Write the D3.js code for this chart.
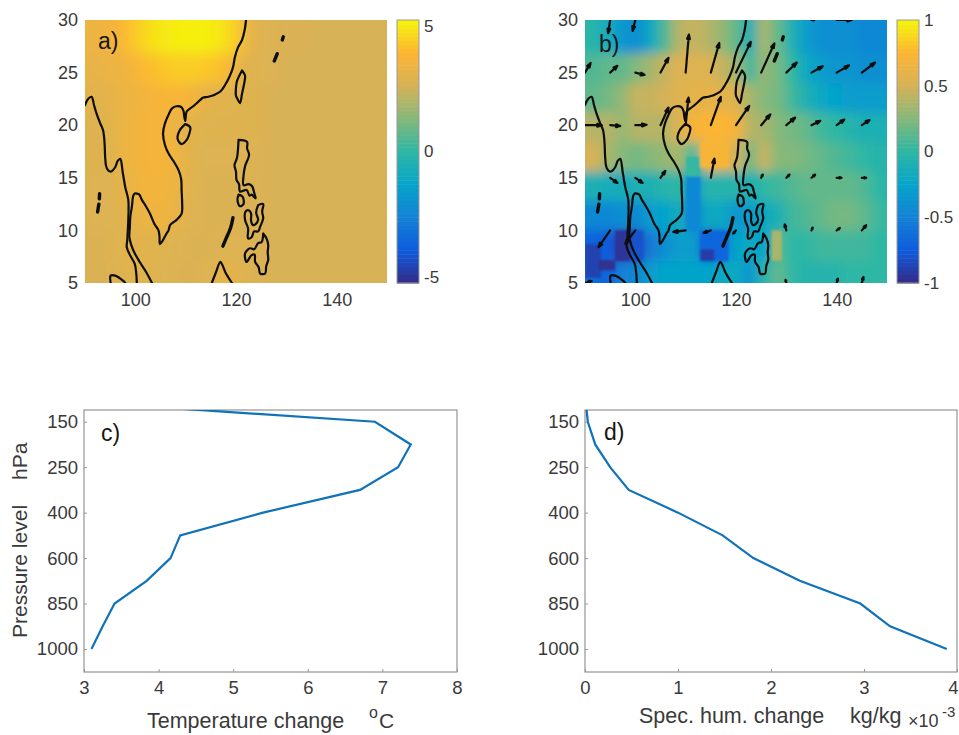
<!DOCTYPE html>
<html>
<head>
<meta charset="utf-8">
<script src="https://cdn.jsdelivr.net/npm/d3@7"></script>
<style>
    body { margin: 0; background: #fff; }
    text { font-family: "Liberation Sans", Arial, sans-serif; fill: #3a3a3a; }
</style>
</head>
<body>
<div id="chart"></div>
<script>
// Parula colormap stops, nudged to the tones seen in the figure
const parulaStops = ["#352a87", "#0f5cdd", "#1481d6", "#06a4ca", "#2eb7a4", "#85b87a", "#d6b258", "#fcb534", "#f5f50a"];

// Left edge of the field columns (2.8125 degree grid) and top edge of the rows
const fieldLonStart = 87.6;
const fieldLonStep = 2.8125;
const fieldLatEdges = [29.6, 26.8, 24, 21.2, 18.4, 15.6, 12.8, 10, 7.1, 4.3];

// Panel a) temperature change, one row per latitude band, north to south
const tempField = [
    [3.4, 3.4, 3.6, 3.9, 4.4, 4.8, 5.0, 5.1, 5.1, 5.1, 4.9, 4.4, 3.2, 2.85, 2.8, 2.75, 2.75, 2.7, 2.7, 2.7, 2.7, 2.7, 2.7],
    [3.2, 3.2, 3.3, 3.5, 3.8, 4.1, 4.3, 4.4, 4.4, 4.3, 4.1, 3.4, 2.9, 2.85, 2.75, 2.7, 2.7, 2.7, 2.7, 2.7, 2.7, 2.7, 2.7],
    [3.0, 3.0, 3.1, 3.3, 3.5, 3.7, 3.8, 3.8, 3.6, 3.1, 3.0, 2.95, 2.9, 2.8, 2.7, 2.7, 2.7, 2.7, 2.7, 2.7, 2.7, 2.7, 2.7],
    [2.9, 2.9, 3.0, 3.3, 3.6, 3.7, 3.7, 3.2, 3.0, 2.9, 2.9, 2.9, 2.9, 2.8, 2.7, 2.7, 2.7, 2.7, 2.7, 2.7, 2.7, 2.7, 2.7],
    [2.9, 2.9, 2.9, 3.3, 3.6, 3.7, 3.7, 3.4, 2.9, 2.85, 2.85, 2.85, 2.85, 2.75, 2.7, 2.7, 2.7, 2.7, 2.7, 2.7, 2.7, 2.7, 2.7],
    [2.8, 2.85, 2.85, 3.1, 3.5, 3.7, 3.6, 3.3, 2.85, 2.8, 2.8, 2.8, 2.8, 2.75, 2.7, 2.7, 2.7, 2.7, 2.7, 2.7, 2.7, 2.7, 2.7],
    [2.8, 2.85, 2.85, 3.0, 3.2, 3.5, 3.5, 3.2, 2.85, 2.8, 2.8, 2.8, 2.8, 2.75, 2.7, 2.7, 2.7, 2.7, 2.7, 2.7, 2.7, 2.7, 2.7],
    [2.8, 2.8, 2.8, 3.0, 3.0, 3.0, 2.9, 2.85, 2.8, 2.8, 2.85, 2.85, 2.85, 2.75, 2.65, 2.7, 2.7, 2.7, 2.7, 2.7, 2.7, 2.7, 2.7],
    [2.8, 2.8, 2.8, 2.9, 3.0, 2.9, 2.85, 2.8, 2.8, 2.85, 3.2, 3.0, 2.8, 2.75, 2.7, 2.7, 2.7, 2.7, 2.7, 2.7, 2.7, 2.7, 2.7]
];

// Panel b) humidity change
const humField = [
    [0, -0.05, -0.15, -0.35, -0.4, -0.2, 0.1, 0.4, 0.45, 0.4, 0.3, 0.15, -0.1, 0.35, 0.15, -0.1, -0.3, -0.4, -0.4, -0.4, -0.45, -0.45, -0.45],
    [0.1, 0.1, 0.15, 0.15, 0.25, 0.35, 0.45, 0.55, 0.55, 0.55, 0.45, 0.35, 0.05, 0.3, 0.2, 0, -0.2, -0.3, -0.35, -0.35, -0.4, -0.4, -0.4],
    [0.15, 0.15, 0.2, 0.3, 0.45, 0.45, 0.5, 0.55, 0.6, 0.6, 0.6, 0.55, 0.35, 0.25, 0.2, 0.05, -0.1, -0.2, -0.25, -0.3, -0.3, -0.3, -0.3],
    [0.4, 0.4, 0.4, 0.3, 0.4, 0.4, 0.4, 0.55, 0.7, 0.75, 0.75, 0.7, 0.4, 0.35, 0.25, 0.2, 0.15, 0.05, 0, -0.05, -0.1, -0.1, -0.1],
    [0.5, 0.5, 0.35, 0.25, 0.2, 0.25, 0.3, 0.35, 0.05, 0.7, 0.65, 0.5, 0.2, 0.45, 0.25, 0.25, 0.2, 0.15, 0.1, 0.05, 0, -0.05, -0.05],
    [-0.1, -0.1, -0.15, -0.15, -0.1, -0.1, -0.05, 0, -0.4, -0.05, -0.05, -0.05, -0.1, 0, 0.05, 0.1, 0.15, 0.15, 0.15, 0.15, 0.1, 0, -0.05],
    [-0.45, -0.45, -0.45, -0.4, -0.45, -0.3, -0.25, -0.15, -0.5, -0.2, -0.2, -0.35, -0.3, -0.2, -0.1, 0.05, 0.1, 0.15, 0.2, 0.2, 0.15, 0.05, 0],
    [-0.7, -0.7, -0.75, -0.9, -0.85, -0.55, -0.4, -0.3, -0.3, -0.7, -0.6, -0.25, -0.2, -0.25, 0.1, 0, 0, 0.05, 0.05, 0.05, 0.05, 0, 0],
    [-0.6, -0.65, -0.7, -0.5, -0.45, -0.3, -0.25, -0.25, -0.25, -0.25, -0.2, -0.2, -0.35, -0.05, 0.15, 0, -0.05, -0.05, -0.05, 0, 0, 0, 0]
];

// Blocky cells of panel b that stay sharp: lon0, lon1, lat0, lat1, value
const humBlocks = [
    [110.1, 112.9, 15.1, 17, 0.02],
    [110.1, 112.9, 10, 15.1, -0.45],
    [96, 101.6, 7.1, 10, -0.8],
    [96, 99, 7.1, 10, -0.95],
    [112.9, 118.5, 7.1, 10, -0.68],
    [112.9, 115.7, 7.1, 8.2, -0.9],
    [90, 93.2, 5.5, 8.7, -0.88],
    [92.8, 96, 6.2, 7.2, -0.97],
    [112.9, 118.5, 16, 18.4, 0.72],
    [127.1, 129.1, 7.1, 10, 0.36]
];

// Quiver grid of panel b
const windLons = [90, 95, 100, 105, 110, 115, 120, 125, 130, 135, 140, 145];
const windLats = [30, 25, 20, 15, 10, 5];
const windU = [
    [0, -0.5, -0.7, 0, 0, 0, 0, 0, 0, 0.7, 3.8, 0],
    [1.4, 1.8, 2.3, 2.0, 0.8, 2.1, 3.7, 3.3, 2.6, 2.8, 3.1, 3.3],
    [4.2, 2.5, 2.8, 2.0, 0.7, 2.5, 3.3, 2.3, 2.2, 2.2, 1.9, 1.9],
    [0, 1.8, 1.8, 1.2, 0, 0.9, 0, 0.4, 0.8, 0.9, 1.2, 1.1],
    [0, -2.9, -2.5, 0, -3.1, -1.8, -0.7, 0, -0.4, 0.3, 0.8, 1.1],
    [1.7, 0, 0, 0, 0, 0, 0, 0, -0.2, 0, 0.3, 0.4]
];
const windV = [
    [0, -3.3, -2.7, 0, 0, 0, 0, 0, 0, 0, 0, 0],
    [2.4, 1.7, -0.6, 3.7, 9.5, 7.4, 7.7, 7.3, 2.5, 1.6, 1.8, 2.5],
    [0, -0.2, 0.1, 4.4, 6.9, 7.1, 4.8, 2.7, 1.9, 1.1, 1.4, 1.3],
    [0, -1.3, -1.3, 1.7, 0, 4.8, 0, 0.8, 0.8, 0.8, 0, 0],
    [0, -4.2, -3.3, 0, -0.4, -0.6, -0.8, 0, 1.5, 0.7, 0.6, 1.3],
    [0.5, 0, 0, 0, 0, 0, 0, 0, 0.8, 0, 1.1, 1.5]
];

// Coastlines as [lon, lat]
const coastChina = [[122, 30], [121.7, 29], [121.2, 28.1], [120.4, 27.4], [119.8, 26.5], [119.4, 25.5], [118.7, 24.6], [117.8, 23.8], [116.9, 23.2], [115.8, 22.9], [114.5, 22.7], [113.4, 22.6], [112.9, 22.4], [111.5, 21.8], [110.2, 21.3], [110, 20.7], [109.9, 20.4], [109.7, 20.9], [109.6, 21.3], [109.2, 21.7], [108.2, 21.8], [107.3, 21.6], [106.6, 21], [105.9, 20.2], [105.5, 19.2], [105.9, 18.1], [106.6, 17.3], [107.7, 16.5], [108.6, 15.7], [109.1, 14.9], [109.2, 13.8], [109.3, 12.6], [109.2, 11.6], [108.2, 11], [106.9, 10.5], [106.6, 10], [106.2, 9.7], [105.4, 9], [104.9, 8.7], [104.8, 9.4], [104.6, 10], [103.8, 10.6], [102.9, 11.6], [102.1, 12.3], [101.3, 12.9], [100.8, 13.4], [100.3, 13.5], [99.9, 13.5], [99.6, 13.3], [99.3, 12.2], [99, 11.3], [98.9, 10.2], [98.8, 9.4], [99.2, 8.6], [99.9, 7.8], [101, 6.9], [102.2, 6], [103.3, 5]];
const coastBurma = [[90, 21.9], [90.6, 22.5], [91.3, 22.7], [91.8, 21.9], [92.3, 21.1], [93, 20.2], [93.6, 19.5], [93.9, 18.2], [94, 17], [94.2, 16.1], [94.6, 15.7], [95.2, 15.6], [96, 16], [96.5, 16.6], [97, 16.8], [97.5, 15.5], [98, 14.1], [98.6, 12.9], [98.6, 11], [98.4, 9.1], [98.3, 8.4], [99, 7.6], [99.9, 6.8], [100.2, 5.8], [100.3, 5]];
const coastSumatra = [[95.1, 5], [95.1, 5.7], [96, 5.7], [97.6, 5.2], [98, 5]];
const coastBorneo = [[115.2, 5], [116, 6], [116.9, 7], [117.4, 6.6], [117.9, 6], [119.2, 5]];
const islandTaiwan = [[121.2, 25.2], [121.8, 24.7], [121.6, 23.9], [121.2, 23], [120.8, 22.1], [120.3, 22.5], [120, 22.8], [120, 23.6], [120.2, 24.2], [121.2, 25.2]];
const islandHainan = [[109.9, 20.1], [110.9, 19.8], [110.6, 19], [110.2, 18.6], [109.2, 18.2], [108.4, 18.7], [108.8, 19.5], [109.9, 20.1]];
const islandLuzon = [[120.5, 18.6], [122.2, 18.4], [122.2, 17.8], [122.6, 17.2], [121.8, 16.1], [121.5, 15.2], [121.5, 14.3], [122.5, 14.4], [123.2, 14.2], [123.6, 13.6], [123.9, 13.05], [123.1, 13.4], [122.7, 13.3], [122.1, 13.85], [120.8, 13.7], [120.6, 14.4], [120.1, 14.8], [120, 15.6], [119.7, 16.2], [120.2, 16.9], [120.5, 18.6]];
const islandMindoro = [[120.5, 13.4], [121.3, 13.2], [121.5, 12.5], [120.8, 12.3], [120.3, 12.9], [120.5, 13.4]];
const islandVisayas = [[124.4, 12.4], [125.4, 12.5], [125.2, 11.8], [125.4, 11.15], [124.8, 10.35], [124.4, 9.9], [123.6, 9.9], [123.1, 9.35], [122.4, 9.25], [122.4, 10.2], [121.8, 11], [121.9, 11.8], [122.6, 11.9], [123, 11.6], [123, 10.9], [123.4, 10.5], [123.9, 10.6], [124.4, 11], [124, 11.7], [124.4, 12.4]];
const islandMindanao = [[125.4, 9.7], [126.1, 9.2], [126.4, 8.6], [126.3, 7.9], [126.4, 7.2], [126, 6.6], [125.8, 5.9], [124.8, 5.9], [124.5, 6.5], [123.8, 7], [123.7, 7.7], [123.1, 7.65], [122.1, 7], [121.8, 7.8], [122.8, 8.3], [123.6, 8.2], [124.4, 8.8], [125.1, 8.9], [125.4, 9.7]];
const coastLines = [coastChina, coastBurma, coastSumatra, coastBorneo, islandTaiwan, islandHainan, islandLuzon, islandMindoro, islandVisayas, islandMindanao];

// Narrow islands that print as solid blobs
const islandPalawan = [[119.4, 11.2], [118.9, 10.2], [118, 9.2], [117.4, 8.5]];
const islandAndaman1 = [[92.9, 13.5], [92.85, 13]];
const islandAndaman2 = [[92.75, 12.5], [92.5, 11.75]];
const islandRyukyu1 = [[129.4, 28.4], [129.2, 28.1]];
const islandRyukyu2 = [[128.2, 26.8], [127.6, 26.1]];
const thinIslands = [islandPalawan, islandAndaman1, islandAndaman2, islandRyukyu1, islandRyukyu2];

const mapLonTicks = [100, 120, 140];
const mapLatTicks = [5, 10, 15, 20, 25, 30];

// Vertical profiles
const levels = [1000, 925, 850, 700, 600, 500, 400, 300, 250, 200, 150, 100];
const levelTicks = [150, 250, 400, 600, 850, 1000];
const tempProfile = [3.1, 3.25, 3.41, 3.84, 4.16, 4.29, 5.4, 6.7, 7.21, 7.38, 6.9, 2.34];
const humProfile = [3.89, 3.28, 2.96, 2.31, 1.81, 1.48, 1.0, 0.47, 0.27, 0.11, 0.03, 0.005];
const tempTicks = [3, 4, 5, 6, 7, 8];
const humTicks = [0, 1, 2, 3, 4];

const svg = d3.select("#chart").append("svg").attr("width", 959).attr("height", 735);
const defs = svg.append("defs");

function addBlur(id, sd) {
    defs.append("filter").attr("id", id)
        .attr("filterUnits", "userSpaceOnUse")
        .attr("x", -40).attr("y", -40).attr("width", 400).attr("height", 360)
        .append("feGaussianBlur").attr("stdDeviation", sd);
}
addBlur("smooth-a", 7);
addBlur("smooth-b", 5.5);
addBlur("soft", 0.8);
addBlur("ink", 0.45);

const mapWidth = 302;
const mapHeight = 263;
const barGap = 10;
const barWidth = 22;

function drawMap(id, left, field, blocks, clim, barTicks) {
    const g = svg.append("g").attr("transform", `translate(${left},20)`);
    const x = d3.scaleLinear().domain([90, 150]).range([0, mapWidth]);
    const y = d3.scaleLinear().domain([5, 30]).range([mapHeight, 0]);
    const color = d3.scaleLinear()
        .domain(parulaStops.map((d, i) => -clim + 2 * clim * i / (parulaStops.length - 1)))
        .range(parulaStops)
        .clamp(true);

    defs.append("clipPath").attr("id", "clip-" + id)
        .append("rect").attr("width", mapWidth).attr("height", mapHeight);
    const inner = g.append("g").attr("clip-path", `url(#clip-${id})`);

    // Field cells, flattened out of the rows. Outermost cells run past the frame so the blur has no edge.
    const cells = [];
    field.forEach((row, r) => row.forEach((v, c) => {
        const lon0 = fieldLonStart + c * fieldLonStep;
        cells.push({
            lon0: c === 0 ? 70 : lon0,
            lon1: c === row.length - 1 ? 170 : lon0 + fieldLonStep,
            lat0: r === field.length - 1 ? -10 : fieldLatEdges[r + 1],
            lat1: r === 0 ? 45 : fieldLatEdges[r],
            value: v
        });
    }));
    inner.append("g").attr("filter", `url(#smooth-${id})`)
        .selectAll("rect").data(cells).join("rect")
        .attr("x", d => x(d.lon0))
        .attr("y", d => y(d.lat1))
        .attr("width", d => x(d.lon1) - x(d.lon0) + 1)
        .attr("height", d => y(d.lat0) - y(d.lat1) + 1)
        .attr("fill", d => color(d.value));

    inner.append("g").attr("filter", "url(#soft)")
        .selectAll("rect").data(blocks).join("rect")
        .attr("x", d => x(d[0]))
        .attr("y", d => y(d[3]))
        .attr("width", d => x(d[1]) - x(d[0]))
        .attr("height", d => y(d[2]) - y(d[3]))
        .attr("fill", d => color(d[4]));

    // Coastlines
    const coastLine = d3.line().x(d => x(d[0])).y(d => y(d[1])).curve(d3.curveCatmullRom.alpha(0.5));
    const coast = inner.append("g").attr("filter", "url(#ink)")
        .attr("fill", "none")
        .attr("stroke", "#0d0d0d")
        .attr("stroke-linejoin", "round")
        .attr("stroke-linecap", "round");
    coast.selectAll(".coast").data(coastLines).join("path")
        .attr("class", "coast")
        .attr("d", coastLine)
        .attr("stroke-width", 2.2);
    coast.selectAll(".blob").data(thinIslands).join("path")
        .attr("class", "blob")
        .attr("d", coastLine)
        .attr("stroke-width", 3.4);

    // Axes
    const xAxis = g.append("g").attr("transform", `translate(0,${mapHeight})`)
        .call(d3.axisBottom(x).tickValues(mapLonTicks).tickSize(0).tickPadding(10));
    const yAxis = g.append("g")
        .call(d3.axisLeft(y).tickValues(mapLatTicks).tickSize(0).tickPadding(7));
    [xAxis, yAxis].forEach(a => {
        a.select(".domain").remove();
        a.selectAll("text").style("font-size", "18px");
    });

    // Colorbar
    const barY = d3.scaleLinear().domain([-clim, clim]).range([mapHeight, 0]);
    const bar = g.append("g").attr("transform", `translate(${mapWidth + barGap},0)`);
    const steps = d3.range(64).map(i => -clim + 2 * clim * (i + 0.5) / 64);
    bar.selectAll("rect").data(steps).join("rect")
        .attr("x", 0)
        .attr("y", d => barY(d + clim / 64))
        .attr("width", barWidth)
        .attr("height", d => barY(d - clim / 64) - barY(d + clim / 64) + 0.5)
        .attr("fill", d => color(d));
    bar.append("rect").attr("width", barWidth).attr("height", mapHeight)
        .attr("fill", "none").attr("stroke", "#9a9a9a");
    const barAxis = bar.append("g").attr("transform", `translate(${barWidth},0)`)
        .call(d3.axisRight(barY).tickValues(barTicks).tickSize(0).tickPadding(5).tickFormat(d => d));
    barAxis.select(".domain").remove();
    barAxis.selectAll("text").style("font-size", "17px");

    return { g, x, y };
}

function drawWind(map) {
    // 1 m/s is drawn as 4 px
    const speed = d3.scaleLinear().domain([0, 1]).range([0, 4]);
    const arrows = [];
    windLats.forEach((lat, r) => windLons.forEach((lon, c) => {
        if (windU[r][c] !== 0 || windV[r][c] !== 0) {
            arrows.push({ lon: lon, lat: lat, u: windU[r][c], v: windV[r][c] });
        }
    }));
    const inner = map.g.append("g").attr("clip-path", "url(#clip-b)")
        .append("g").attr("filter", "url(#ink)");
    inner.selectAll("path").data(arrows).join("path")
        .attr("d", d => {
            const x0 = map.x(d.lon);
            const y0 = map.y(d.lat);
            const dx = speed(d.u);
            const dy = -speed(d.v);
            const len = Math.hypot(dx, dy);
            const ux = dx / len;
            const uy = dy / len;
            const head = Math.min(4.5, len * 0.4);
            const wing = Math.min(1.4, head * 0.35);
            const tipX = x0 + dx;
            const tipY = y0 + dy;
            const backX = tipX - ux * head;
            const backY = tipY - uy * head;
            return `M${x0},${y0}L${backX},${backY}`
                + `M${tipX},${tipY}L${backX - uy * wing},${backY + ux * wing}L${backX + uy * wing},${backY - ux * wing}Z`;
        })
        .attr("fill", "#0d0d0d")
        .attr("stroke", "#0d0d0d")
        .attr("stroke-width", 2.2)
        .attr("stroke-linecap", "round")
        .attr("stroke-linejoin", "round");
}

const panelH = 262;

function drawProfile(id, left, width, values, domain, ticks) {
    const g = svg.append("g").attr("transform", `translate(${left},410)`);
    const x = d3.scaleLinear().domain(domain).range([0, width]);
    const y = d3.scalePoint().domain(levels).range([239, -11]);

    defs.append("clipPath").attr("id", "clip-" + id)
        .append("rect").attr("width", width).attr("height", panelH);

    const xAxis = g.append("g").attr("transform", `translate(0,${panelH})`)
        .call(d3.axisBottom(x).tickValues(ticks).tickSize(-3).tickPadding(9).tickFormat(d3.format("d")));
    const yAxis = g.append("g")
        .call(d3.axisLeft(y).tickValues(levelTicks).tickSize(-3).tickPadding(6));
    [xAxis, yAxis].forEach(a => {
        a.select(".domain").remove();
        a.selectAll("line").attr("stroke", "#999");
        a.selectAll("text").style("font-size", "18.5px");
    });
    g.append("rect").attr("width", width).attr("height", panelH)
        .attr("fill", "none").attr("stroke", "#949494").attr("stroke-width", 1.2);

    const line = d3.line().x(d => x(d)).y((d, i) => y(levels[i]));
    g.append("g").attr("clip-path", `url(#clip-${id})`).append("path")
        .attr("d", line(values))
        .attr("fill", "none")
        .attr("stroke", "#0f72ba")
        .attr("stroke-width", 2.2);
    return xAxis;
}

function addText(x, y, str, size, rotate) {
    const t = svg.append("text").attr("x", x).attr("y", y).text(str).style("font-size", size + "px");
    if (rotate) {
        t.attr("transform", `rotate(-90,${x},${y})`);
    }
    return t;
}

drawMap("a", 85, tempField, [], 5.25, [-5, 0, 5]);
const mapB = drawMap("b", 585, humField, humBlocks, 1, [-1, -0.5, 0, 0.5, 1]);
drawWind(mapB);
drawProfile("c", 84, 373, tempProfile, [3, 8], tempTicks);
const humAxis = drawProfile("d", 585, 372, humProfile, [0, 4], humTicks);
// The last tick sits at the window edge, keep its digit inside
humAxis.selectAll("text").filter(d => d === 4).attr("dx", -4);

// Panel letters
addText(98, 49, "a)", 23).style("fill", "#161616");
addText(599, 52, "b)", 23).style("fill", "#161616");
addText(101, 441, "c)", 23).style("fill", "#161616");
addText(604, 440, "d)", 23).style("fill", "#161616");

// Axis titles
addText(27, 638, "Pressure level", 21, true);
addText(27, 480, "hPa", 21, true);
addText(147, 728, "Temperature change", 21.5);
addText(369, 718, "o", 16);
addText(379, 728, "C", 21);
addText(639, 723, "Spec. hum. change", 21.5);
addText(850, 723, "kg/kg", 21.5);
addText(908, 727, "\u00d710", 18);
addText(942, 717, "-3", 15);
</script>
</body>
</html>
